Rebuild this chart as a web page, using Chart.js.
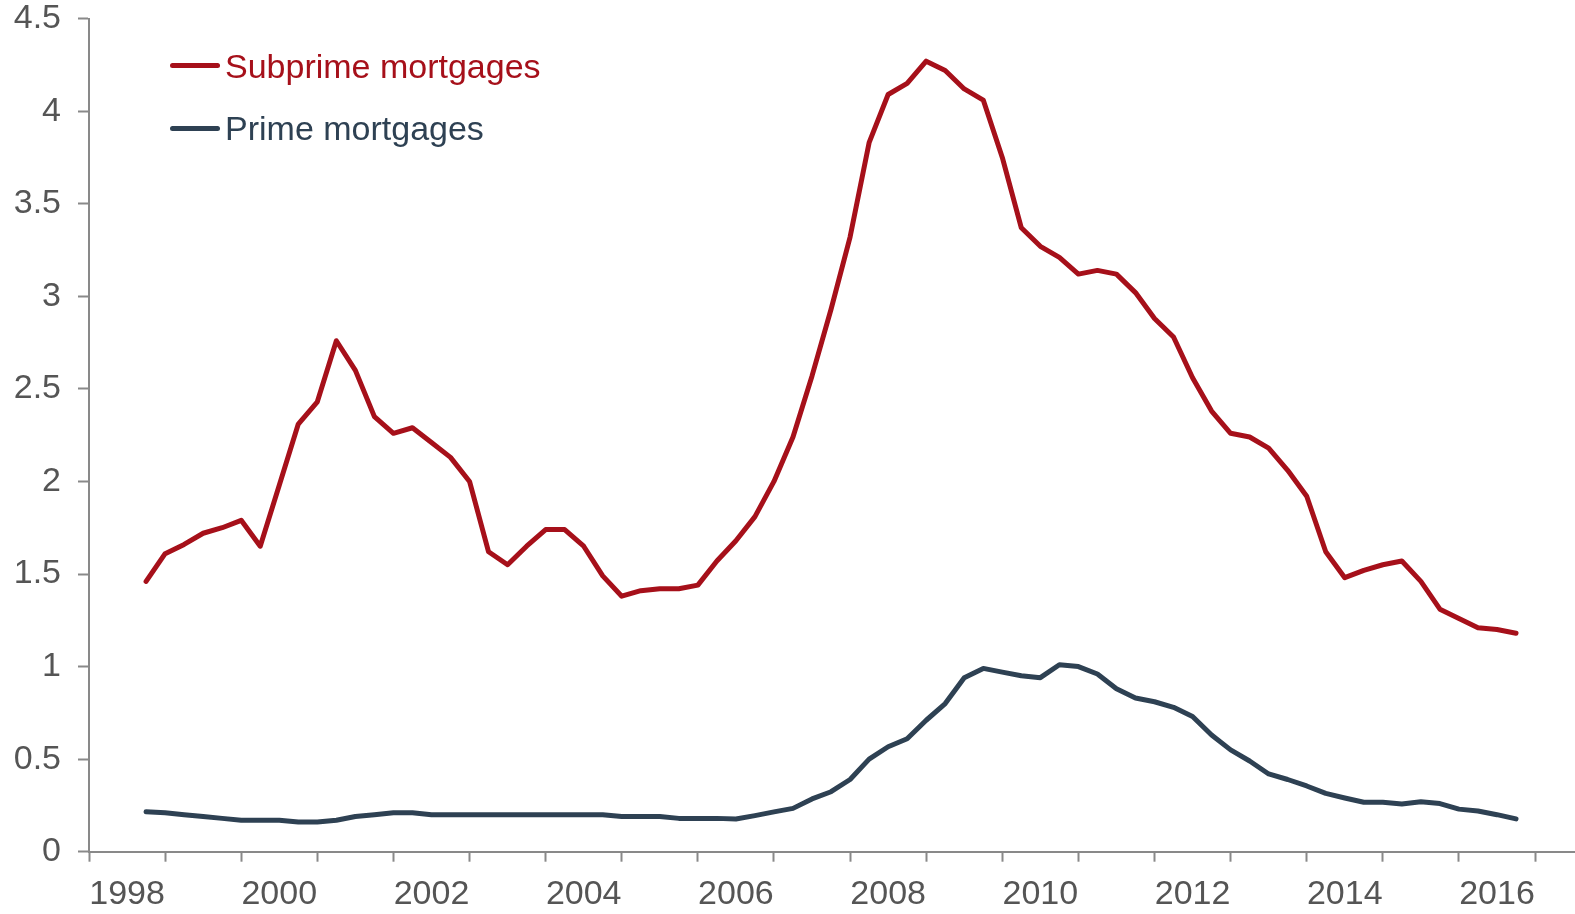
<!DOCTYPE html>
<html>
<head>
<meta charset="utf-8">
<script src="https://cdn.jsdelivr.net/npm/chart.js@4.4.1/dist/chart.umd.min.js"></script>
<style>
  html, body { margin: 0; padding: 0; background: #ffffff; overflow: hidden; }
  #wrap { position: relative; width: 1575px; height: 914px; }
  canvas { position: absolute; left: 0; top: 0; }
  .lg-line { position: absolute; height: 5px; border-radius: 2.5px; }
  .lg-text { position: absolute; font-family: "Liberation Sans", Arial, sans-serif; font-size: 34px; line-height: 34px; white-space: nowrap; }
</style>
</head>
<body>
<div id="wrap">
  <canvas id="c" width="1575" height="914"></canvas>
  <div class="lg-line" style="left:170px; top:62.5px; width:50px; background:#A6101A;"></div>
  <div class="lg-text" id="lg1" style="left:225px; top:49px; color:#A6101A;"></div>
  <div class="lg-line" style="left:170px; top:125.5px; width:50px; background:#2E4153;"></div>
  <div class="lg-text" id="lg2" style="left:225px; top:111px; color:#2E4153;"></div>
</div>
<script>
// ---- Data (quarterly, 1998Q3 – 2016Q3) ----
const seriesNames = ['Subprime mortgages', 'Prime mortgages'];
const yearLabels = ['1998','2000','2002','2004','2006','2008','2010','2012','2014','2016'];
const quarters = [];
for (let y = 1998; y <= 2016; y++) {
  for (let q = 1; q <= 4; q++) {
    if ((y === 1998 && q < 3) || (y === 2016 && q > 3)) continue;
    quarters.push(y + 'Q' + q);
  }
}
const subprime = [
  1.46, 1.61, 1.66, 1.72, 1.75, 1.79, 1.65, 1.98, 2.31, 2.43,
  2.76, 2.60, 2.35, 2.26, 2.29, 2.21, 2.13, 2.00, 1.62, 1.55,
  1.65, 1.74, 1.74, 1.65, 1.49, 1.38, 1.41, 1.42, 1.42, 1.44,
  1.57, 1.68, 1.81, 2.00, 2.24, 2.57, 2.93, 3.32, 3.83, 4.09,
  4.15, 4.27, 4.22, 4.12, 4.06, 3.75, 3.37, 3.27, 3.21, 3.12,
  3.14, 3.12, 3.02, 2.88, 2.78, 2.56, 2.38, 2.26, 2.24, 2.18,
  2.06, 1.92, 1.62, 1.48, 1.52, 1.55, 1.57, 1.46, 1.31, 1.26,
  1.21, 1.20, 1.18
];
const prime = [
  0.216, 0.21, 0.20, 0.19, 0.18, 0.17, 0.17, 0.17, 0.16, 0.16,
  0.17, 0.19, 0.20, 0.21, 0.21, 0.20, 0.20, 0.20, 0.20, 0.20,
  0.20, 0.20, 0.20, 0.20, 0.20, 0.19, 0.19, 0.19, 0.18, 0.18,
  0.18, 0.177, 0.195, 0.215, 0.234, 0.285, 0.324, 0.39, 0.50, 0.567,
  0.61, 0.71, 0.80, 0.94, 0.99, 0.97, 0.95, 0.94, 1.01, 1.00,
  0.96, 0.88, 0.83, 0.81, 0.78, 0.73, 0.63, 0.55, 0.49, 0.42,
  0.39, 0.355, 0.315, 0.29, 0.267, 0.267, 0.258, 0.27, 0.26, 0.23,
  0.22, 0.20, 0.177
];
const yTicks = { min: 0, max: 4.5, step: 0.5 };
const firstYear = 1998;

// ---- helpers ----
function qIndex(label) {
  const y = parseInt(label.slice(0, 4), 10);
  const q = parseInt(label.slice(5), 10);
  return (y - firstYear) * 4 + q;
}
function toPoints(vals) {
  return vals.map((v, i) => ({ x: qIndex(quarters[i]), y: v }));
}

document.getElementById('lg1').textContent = seriesNames[0];
document.getElementById('lg2').textContent = seriesNames[1];

const AXIS = '#898989';
const TXT = '#555555';
const FONT = { family: '"Liberation Sans", Arial, sans-serif', size: 34 };
const lastTick = (yearLabels.length) * 8 - 4; // 76

new Chart(document.getElementById('c'), {
  type: 'line',
  data: {
    datasets: [
      { label: seriesNames[0], data: toPoints(subprime), borderColor: '#A6101A', backgroundColor: '#A6101A' },
      { label: seriesNames[1], data: toPoints(prime), borderColor: '#2E4153', backgroundColor: '#2E4153' }
    ]
  },
  options: {
    responsive: false,
    animation: false,
    devicePixelRatio: 1,
    layout: { padding: { top: 18.6, right: 0, bottom: 0, left: 0 } },
    elements: {
      point: { radius: 0, hoverRadius: 0 },
      line: { borderWidth: 5, tension: 0, borderCapStyle: 'round', borderJoinStyle: 'round', fill: false }
    },
    plugins: { legend: { display: false }, tooltip: { enabled: false } },
    scales: {
      x: {
        type: 'linear',
        min: 0,
        max: 78.1,
        afterBuildTicks: (scale) => {
          const t = [];
          for (let v = 0; v <= lastTick; v += 2) t.push({ value: v });
          scale.ticks = t;
        },
        afterFit: (scale) => { scale.height = 62.3; scale.paddingLeft = 0; scale.paddingRight = 0; },
        ticks: {
          autoSkip: false, maxRotation: 0, minRotation: 0,
          padding: 13, color: TXT, font: FONT,
          callback: (v) => ((v - 2) % 8 === 0 ? yearLabels[(v - 2) / 8] : '')
        },
        grid: {
          drawOnChartArea: false, drawTicks: true, tickLength: 10, tickWidth: 2,
          tickColor: (ctx) => (ctx.tick && ctx.tick.value % 4 === 0 ? AXIS : 'rgba(0,0,0,0)')
        },
        border: { display: true, color: AXIS, width: 2 }
      },
      y: {
        min: yTicks.min,
        max: yTicks.max,
        afterFit: (scale) => { scale.width = 89; scale.paddingTop = 0; scale.paddingBottom = 0; },
        ticks: { stepSize: yTicks.step, padding: 17, color: TXT, font: FONT, callback: (v) => String(v) },
        grid: { drawOnChartArea: false, drawTicks: true, tickLength: 11, tickWidth: 2, tickColor: AXIS },
        border: { display: true, color: AXIS, width: 2 }
      }
    }
  }
});
</script>
</body>
</html>
